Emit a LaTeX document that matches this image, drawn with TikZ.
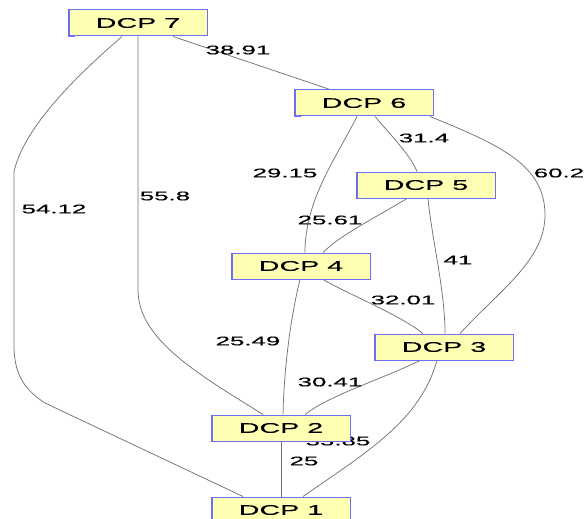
\documentclass[tikz,border=0pt]{standalone}
\usepackage{fontspec}
\setmainfont{Liberation Sans}
\newfontfamily\widefont[FakeStretch=2.05,FakeBold=0.5]{Liberation Sans}
\definecolor{boxfill}{RGB}{255,255,180}
\definecolor{boxline}{RGB}{110,110,245}
\definecolor{edgecol}{RGB}{115,115,115}
\pgfdeclarelayer{bg}
\pgfsetlayers{bg,main}
\begin{document}
\begin{tikzpicture}[x=1pt,y=-1pt,
  dcp/.style={draw=boxline, line width=1pt, fill=boxfill, minimum width=138pt,
    minimum height=26pt, inner sep=0pt, font=\widefont\fontsize{14}{14}\selectfont},
  boxedge/.style={draw=boxline, line width=1.6pt},
  lnk/.style={draw=edgecol, line width=0.75pt},
  lbl/.style={font=\widefont\fontsize{12.6}{13}\selectfont, inner sep=0pt}]
\useasboundingbox (0,0) rectangle (587,519);
\node[dcp] (n7) at (138,23) {DCP 7};
\node[dcp] (n6) at (364,103) {DCP 6};
\node[dcp] (n5) at (426,185) {DCP 5};
\node[dcp] (n4) at (301,266) {DCP 4};
\node[dcp] (n3) at (444,347) {DCP 3};
\node[dcp] (n2) at (281,428) {DCP 2};
\node[dcp] (n1) at (281,510) {DCP 1};
\foreach \n in {n7,n6,n5,n4,n3,n2,n1}
  \draw[boxedge] (\n.north west) -- (\n.south west) -- ([xshift=6pt]\n.south west);
\begin{pgfonlayer}{bg}
\draw[lnk] ([xshift=35pt]n7.south) -- ([xshift=-34pt]n6.north);
\draw[lnk] ([xshift=-16pt]n7.south) .. controls (60,90) and (22,135) .. (14,172)
   -- (14,345) .. controls (14,375) and (25,390) .. (45,403) -- ([xshift=-38pt]n1.north);
\draw[lnk] (n7.south) -- (138,290) .. controls (138,340) and (200,375) .. ([xshift=-18pt]n2.north);
\draw[lnk] ([xshift=-7pt]n6.south) .. controls (335,160) and (305,200) .. ([xshift=4pt]n4.north);
\draw[lnk] ([xshift=11pt]n6.south) .. controls (395,140) and (410,155) .. ([xshift=-9pt]n5.north);
\draw[lnk] ([xshift=66pt]n6.south) .. controls (500,145) and (545,165) .. (545,215)
   .. controls (545,260) and (500,290) .. ([xshift=16pt]n3.north);
\draw[lnk] ([xshift=-19pt]n5.south) .. controls (380,215) and (340,235) .. ([xshift=22pt]n4.north);
\draw[lnk] ([xshift=2pt]n5.south) .. controls (432,240) and (445,290) .. ([xshift=1pt]n3.north);
\draw[lnk] ([xshift=22pt]n4.south) .. controls (350,295) and (400,315) .. ([xshift=-21pt]n3.north);
\draw[lnk] ([xshift=-1pt]n4.south) .. controls (290,320) and (284,370) .. ([xshift=2pt]n2.north);
\draw[lnk] ([xshift=-24pt]n3.south) .. controls (380,380) and (330,395) .. ([xshift=24pt]n2.north);
\draw[lnk] ([xshift=-7pt]n3.south) .. controls (420,420) and (370,450) .. ([xshift=22pt]n1.north);
\draw[lnk] (n2.south) -- (n1.north);
\node[lbl] (l76) at (238,50) {38.91};
\node[lbl] (l71) at (54,209) {54.12};
\node[lbl] (l72) at (165,196) {55.8};
\node[lbl] (l64) at (285,173) {29.15};
\node[lbl] (l65) at (424,138) {31.4};
\node[lbl] (l63) at (559,173) {60.2};
\node[lbl] (l54) at (330,220) {25.61};
\node[lbl] (l53) at (458,260) {41};
\node[lbl] (l43) at (403,300) {32.01};
\node[lbl] (l42) at (248,341) {25.49};
\node[lbl] (l32) at (330,382) {30.41};
\node[lbl] (l31) at (338,441) {33.85};
\node[lbl] (l21) at (304,461) {25};
\end{pgfonlayer}
\end{tikzpicture}
\end{document}
